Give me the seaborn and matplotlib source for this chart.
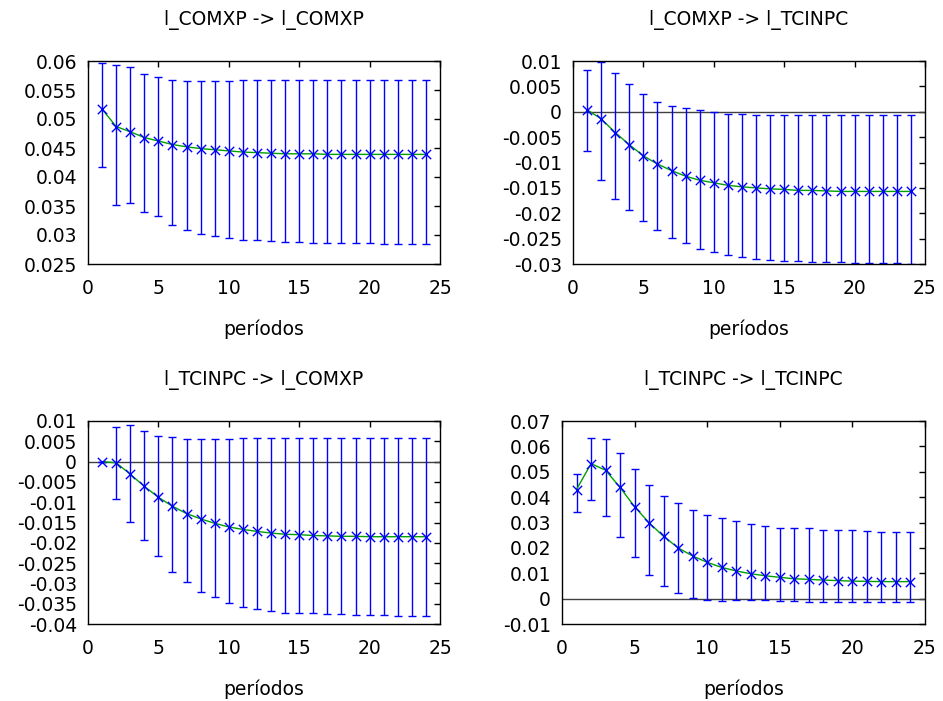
import numpy as np
import pandas as pd
import matplotlib
matplotlib.use("Agg")
import matplotlib.pyplot as plt
from matplotlib.ticker import FuncFormatter, MultipleLocator
import seaborn as sns

periods = list(range(1, 25))

titles = ["l_COMXP -> l_COMXP", "l_COMXP -> l_TCINPC",
          "l_TCINPC -> l_COMXP", "l_TCINPC -> l_TCINPC"]

irf_comxp_comxp = [0.0517, 0.0487, 0.0478, 0.0468, 0.0462, 0.0456, 0.0452, 0.0449,
                   0.0447, 0.0445, 0.0443, 0.0442, 0.0441, 0.0440, 0.0440, 0.0440,
                   0.0439, 0.0439, 0.0439, 0.0439, 0.0439, 0.0439, 0.0439, 0.0439]
up_comxp_comxp = [0.0596, 0.0593, 0.0589, 0.0577, 0.0572, 0.0567, 0.0566, 0.0566,
                  0.0565, 0.0566, 0.0567, 0.0567, 0.0568, 0.0568, 0.0568, 0.0568,
                  0.0568, 0.0567, 0.0567, 0.0567, 0.0567, 0.0567, 0.0567, 0.0567]
lo_comxp_comxp = [0.0418, 0.0352, 0.0356, 0.0339, 0.0332, 0.0318, 0.0308, 0.0302,
                  0.0299, 0.0295, 0.0292, 0.0291, 0.0289, 0.0288, 0.0288, 0.0287,
                  0.0287, 0.0286, 0.0286, 0.0286, 0.0285, 0.0285, 0.0285, 0.0285]

irf_comxp_tcinpc = [0.0004, -0.0014, -0.0041, -0.0065, -0.0087, -0.0103, -0.0116, -0.0127,
                    -0.0135, -0.0140, -0.0145, -0.0148, -0.0150, -0.0152, -0.0153, -0.0155,
                    -0.0155, -0.0156, -0.0157, -0.0157, -0.0157, -0.0157, -0.0157, -0.0157]
up_comxp_tcinpc = [0.0083, 0.0099, 0.0076, 0.0054, 0.0035, 0.0019, 0.0011, 0.0007,
                   0.0003, -0.0001, -0.0004, -0.0005, -0.0006, -0.0006, -0.0006, -0.0007,
                   -0.0007, -0.0007, -0.0007, -0.0007, -0.0007, -0.0007, -0.0007, -0.0007]
lo_comxp_tcinpc = [-0.0077, -0.0135, -0.0171, -0.0194, -0.0215, -0.0233, -0.0249, -0.0259,
                   -0.0270, -0.0277, -0.0282, -0.0286, -0.0290, -0.0292, -0.0294, -0.0295,
                   -0.0296, -0.0296, -0.0297, -0.0298, -0.0298, -0.0299, -0.0299, -0.0300]

irf_tcinpc_comxp = [0.0000, -0.0003, -0.0031, -0.0061, -0.0088, -0.0110, -0.0128, -0.0141,
                    -0.0152, -0.0161, -0.0167, -0.0172, -0.0176, -0.0179, -0.0180, -0.0182,
                    -0.0183, -0.0184, -0.0184, -0.0185, -0.0185, -0.0185, -0.0185, -0.0185]
up_tcinpc_comxp = [0.0000, 0.0085, 0.0089, 0.0075, 0.0064, 0.0061, 0.0055, 0.0056,
                   0.0055, 0.0056, 0.0057, 0.0058, 0.0058, 0.0058, 0.0058, 0.0058,
                   0.0058, 0.0058, 0.0058, 0.0058, 0.0058, 0.0058, 0.0058, 0.0058]
lo_tcinpc_comxp = [0.0000, -0.0093, -0.0149, -0.0192, -0.0233, -0.0273, -0.0296, -0.0320,
                   -0.0334, -0.0348, -0.0357, -0.0363, -0.0367, -0.0372, -0.0372, -0.0374,
                   -0.0375, -0.0376, -0.0377, -0.0378, -0.0379, -0.0380, -0.0381, -0.0381]

irf_tcinpc_tcinpc = [0.0430, 0.0532, 0.0506, 0.0438, 0.0362, 0.0299, 0.0245, 0.0200,
                     0.0168, 0.0143, 0.0123, 0.0109, 0.0098, 0.0090, 0.0084, 0.0078,
                     0.0076, 0.0073, 0.0071, 0.0069, 0.0068, 0.0067, 0.0067, 0.0067]
up_tcinpc_tcinpc = [0.0491, 0.0633, 0.0628, 0.0574, 0.0510, 0.0448, 0.0406, 0.0375,
                    0.0349, 0.0329, 0.0316, 0.0307, 0.0296, 0.0287, 0.0280, 0.0278,
                    0.0277, 0.0272, 0.0270, 0.0269, 0.0266, 0.0264, 0.0261, 0.0261]
lo_tcinpc_tcinpc = [0.0343, 0.0388, 0.0325, 0.0244, 0.0165, 0.0093, 0.0051, 0.0022,
                    0.0004, -0.0004, -0.0010, -0.0006, -0.0006, -0.0006, -0.0008, -0.0009,
                    -0.0012, -0.0013, -0.0013, -0.0013, -0.0013, -0.0013, -0.0013, -0.0013]

ylims = [(0.025, 0.06), (-0.03, 0.01), (-0.04, 0.01), (-0.01, 0.07)]
ysteps = [0.005, 0.005, 0.005, 0.01]
xlabel = "períodos"

series = [
    (irf_comxp_comxp, lo_comxp_comxp, up_comxp_comxp),
    (irf_comxp_tcinpc, lo_comxp_tcinpc, up_comxp_tcinpc),
    (irf_tcinpc_comxp, lo_tcinpc_comxp, up_tcinpc_comxp),
    (irf_tcinpc_tcinpc, lo_tcinpc_tcinpc, up_tcinpc_tcinpc),
]

sns.set_style("white")
plt.rcParams['font.family'] = ['DejaVu Sans']
plt.rcParams['text.color'] = 'black'
plt.rcParams['axes.labelcolor'] = 'black'

W, H = 943, 701
fig = plt.figure(figsize=(W / 100, H / 100), dpi=100)

# axes boxes in pixels: left, top, right, bottom
boxes = [(88, 61, 440, 264), (573, 61, 925, 264),
         (88, 421, 440, 624), (562, 421, 925, 624)]

FS = 13.5

def fmt(v, pos):
    v = round(v, 6)
    if abs(v) < 1e-12:
        return "0"
    return "%g" % v

for i, (l, t, r, b) in enumerate(boxes):
    ax = fig.add_axes([l / W, 1 - b / H, (r - l) / W, (b - t) / H])
    irf, lo, up = series[i]
    df = pd.DataFrame({"period": periods, "irf": irf, "lo": lo, "up": up})
    ymin, ymax = ylims[i]
    if ymin < 0 < ymax:
        ax.axhline(0, color="#404040", lw=1.0, zorder=1)
    err = np.array([df["irf"] - df["lo"], df["up"] - df["irf"]])
    ax.errorbar(df["period"], df["irf"], yerr=err, fmt="none",
                ecolor="#0000ff", elinewidth=1.0, capsize=3, capthick=1.0, zorder=2)
    sns.lineplot(data=df, x="period", y="irf", ax=ax, color="#00a000", lw=1.0, zorder=3)
    sns.scatterplot(data=df, x="period", y="irf", ax=ax, marker="x", color="#0000ff",
                    s=45, linewidth=1.0, zorder=4)
    ax.set_xlim(0, 25)
    ax.set_ylim(ymin, ymax)
    ax.xaxis.set_major_locator(MultipleLocator(5))
    ax.yaxis.set_major_locator(MultipleLocator(ysteps[i]))
    ax.yaxis.set_major_formatter(FuncFormatter(fmt))
    ax.tick_params(direction="in", length=4, width=1, color="black",
                   top=True, right=True, labelsize=FS, labelcolor="black")
    ax.tick_params(axis="x", pad=11)
    ax.tick_params(axis="y", pad=8)
    for s in ax.spines.values():
        s.set_visible(True)
        s.set_color("black")
        s.set_linewidth(1.0)
    ax.set_title(titles[i], fontsize=FS, pad=26, color="black")
    ax.set_xlabel(xlabel, fontsize=FS, labelpad=15, color="black")
    ax.set_ylabel("")

fig.savefig("out.png", dpi=100)
